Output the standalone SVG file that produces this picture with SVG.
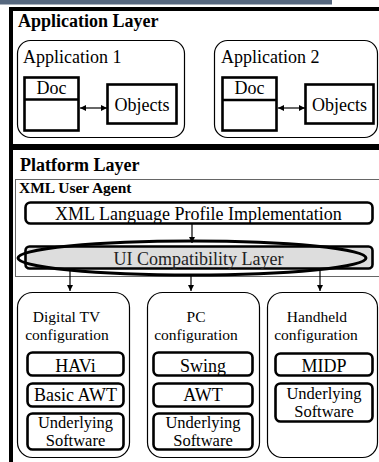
<svg xmlns="http://www.w3.org/2000/svg" width="379" height="462" viewBox="0 0 379 462">
  <defs>
    <marker id="head" viewBox="0 0 10 10" refX="10" refY="5" markerWidth="6" markerHeight="6" markerUnits="userSpaceOnUse" orient="auto-start-reverse">
      <path d="M0,0 L10,5 L0,10 Z" fill="#000"/>
    </marker>
    <style>
      text { font-family: "Liberation Serif", "Times New Roman", "DejaVu Serif", serif; }
      .layer { fill: none; stroke: #000; stroke-width: 4; }
      .title { font-weight: bold; font-size: 18px; }
      .sub { font-weight: bold; font-size: 15.5px; }
      .app { fill: #fff; stroke: #000; stroke-width: 1.2; }
      .thick { fill: #fff; stroke: #000; stroke-width: 2.6; }
      .lbl { font-size: 18px; }
      .two { font-size: 16.5px; }
      .cfg { font-size: 15.5px; }
      .mid { text-anchor: middle; }
      .conn { stroke: #000; stroke-width: 1.2; fill: none; }
    </style>
  </defs>

  <!-- header strip -->
  <rect x="0" y="0" width="332" height="4.5" fill="#56687f"/>

  <!-- Application layer -->
  <g id="application-layer">
    <rect class="layer" x="11" y="9" width="400" height="137"/>
    <text class="title" x="18" y="27">Application Layer</text>
  </g>

  <g id="application-1">
    <rect class="app" x="17.5" y="40.5" width="167" height="97" rx="13"/>
    <text class="lbl" x="23" y="63">Application 1</text>
  </g>
  <g id="doc-1">
    <rect class="thick" x="24.5" y="77.5" width="54" height="53"/>
    <line x1="24.5" y1="99.5" x2="78.5" y2="99.5" stroke="#000" stroke-width="2.6"/>
    <text class="lbl mid" x="51.5" y="94">Doc</text>
  </g>
  <g id="objects-1">
    <rect class="thick" x="107.5" y="84.5" width="69" height="39"/>
    <text class="lbl mid" x="142" y="111">Objects</text>
  </g>

  <g id="application-2">
    <rect class="app" x="214.5" y="40.5" width="163" height="97" rx="13"/>
    <text class="lbl" x="221" y="63">Application 2</text>
  </g>
  <g id="doc-2">
    <rect class="thick" x="222.5" y="77.5" width="54" height="53"/>
    <line x1="222.5" y1="100" x2="276.5" y2="100" stroke="#000" stroke-width="2.6"/>
    <text class="lbl mid" x="249.5" y="94">Doc</text>
  </g>
  <g id="objects-2">
    <rect class="thick" x="305.5" y="84.5" width="68" height="39"/>
    <text class="lbl mid" x="339.5" y="111">Objects</text>
  </g>

  <!-- Platform layer -->
  <g id="platform-layer">
    <rect class="layer" x="11" y="148" width="400" height="360"/>
    <text class="title" x="20" y="171">Platform Layer</text>
  </g>

  <g id="xml-user-agent">
    <rect x="15.5" y="179.5" width="380" height="97" fill="none" stroke="#666" stroke-width="1"/>
    <text class="sub" x="19" y="193">XML User Agent</text>
  </g>

  <g id="xml-profile">
    <rect class="thick" x="25.5" y="202.5" width="347" height="21" rx="5"/>
    <text class="lbl mid" x="198.5" y="220">XML Language Profile Implementation</text>
  </g>

  <g id="ui-compat">
    <rect x="25.5" y="246.5" width="347" height="22" rx="4" fill="#dddddd" stroke="#000" stroke-width="2.6"/>
    <text class="lbl mid" x="198.5" y="265" fill="#222">UI Compatibility Layer</text>
    <ellipse cx="192" cy="258" rx="174" ry="17" fill="none" stroke="#000" stroke-width="3"/>
  </g>

  <g id="digital-tv">
    <rect class="app" x="17.5" y="292.5" width="112" height="165" rx="15"/>
    <text class="cfg mid" x="66.5" y="322">Digital TV</text>
    <text class="cfg mid" x="67" y="340">configuration</text>
    <rect class="thick" x="27.5" y="352.5" width="96" height="23" rx="5"/>
    <text class="lbl mid" x="75.5" y="371.5">HAVi</text>
    <rect class="thick" x="27.5" y="383.5" width="96" height="23" rx="5"/>
    <text class="lbl mid" x="75.5" y="401">Basic AWT</text>
    <rect class="thick" x="27.5" y="413.5" width="96" height="36" rx="5"/>
    <text class="two mid" x="75.5" y="428">Underlying</text>
    <text class="two mid" x="75.5" y="446">Software</text>
  </g>

  <g id="pc">
    <rect class="app" x="147.5" y="292.5" width="112" height="165" rx="15"/>
    <text class="cfg mid" x="196" y="322">PC</text>
    <text class="cfg mid" x="196" y="340">configuration</text>
    <rect class="thick" x="153.5" y="352.5" width="99" height="23" rx="5"/>
    <text class="lbl mid" x="203" y="371.5">Swing</text>
    <rect class="thick" x="153.5" y="383.5" width="99" height="23" rx="5"/>
    <text class="lbl mid" x="203" y="401">AWT</text>
    <rect class="thick" x="153.5" y="413.5" width="99" height="36" rx="5"/>
    <text class="two mid" x="203" y="428">Underlying</text>
    <text class="two mid" x="203" y="446">Software</text>
  </g>

  <g id="handheld">
    <rect class="app" x="267.5" y="292.5" width="110" height="165" rx="15"/>
    <text class="cfg mid" x="317" y="322">Handheld</text>
    <text class="cfg mid" x="316" y="340">configuration</text>
    <rect class="thick" x="275.5" y="353.5" width="97" height="22" rx="5"/>
    <text class="lbl mid" x="324" y="371.5">MIDP</text>
    <rect class="thick" x="275.5" y="383.5" width="97" height="38" rx="5"/>
    <text class="two mid" x="324" y="399">Underlying</text>
    <text class="two mid" x="324" y="417">Software</text>
  </g>

  <!-- connectors -->
  <g id="connectors">
    <line class="conn" x1="80" y1="108" x2="107" y2="108" marker-start="url(#head)" marker-end="url(#head)"/>
    <line class="conn" x1="278" y1="108" x2="305" y2="108" marker-start="url(#head)" marker-end="url(#head)"/>
    <line class="conn" x1="192" y1="224" x2="192" y2="243" marker-end="url(#head)"/>
    <line class="conn" x1="70" y1="271" x2="70" y2="291" marker-end="url(#head)"/>
    <line class="conn" x1="191" y1="275" x2="191" y2="291" marker-end="url(#head)"/>
    <line class="conn" x1="320" y1="271" x2="320" y2="291" marker-end="url(#head)"/>
  </g>
</svg>
